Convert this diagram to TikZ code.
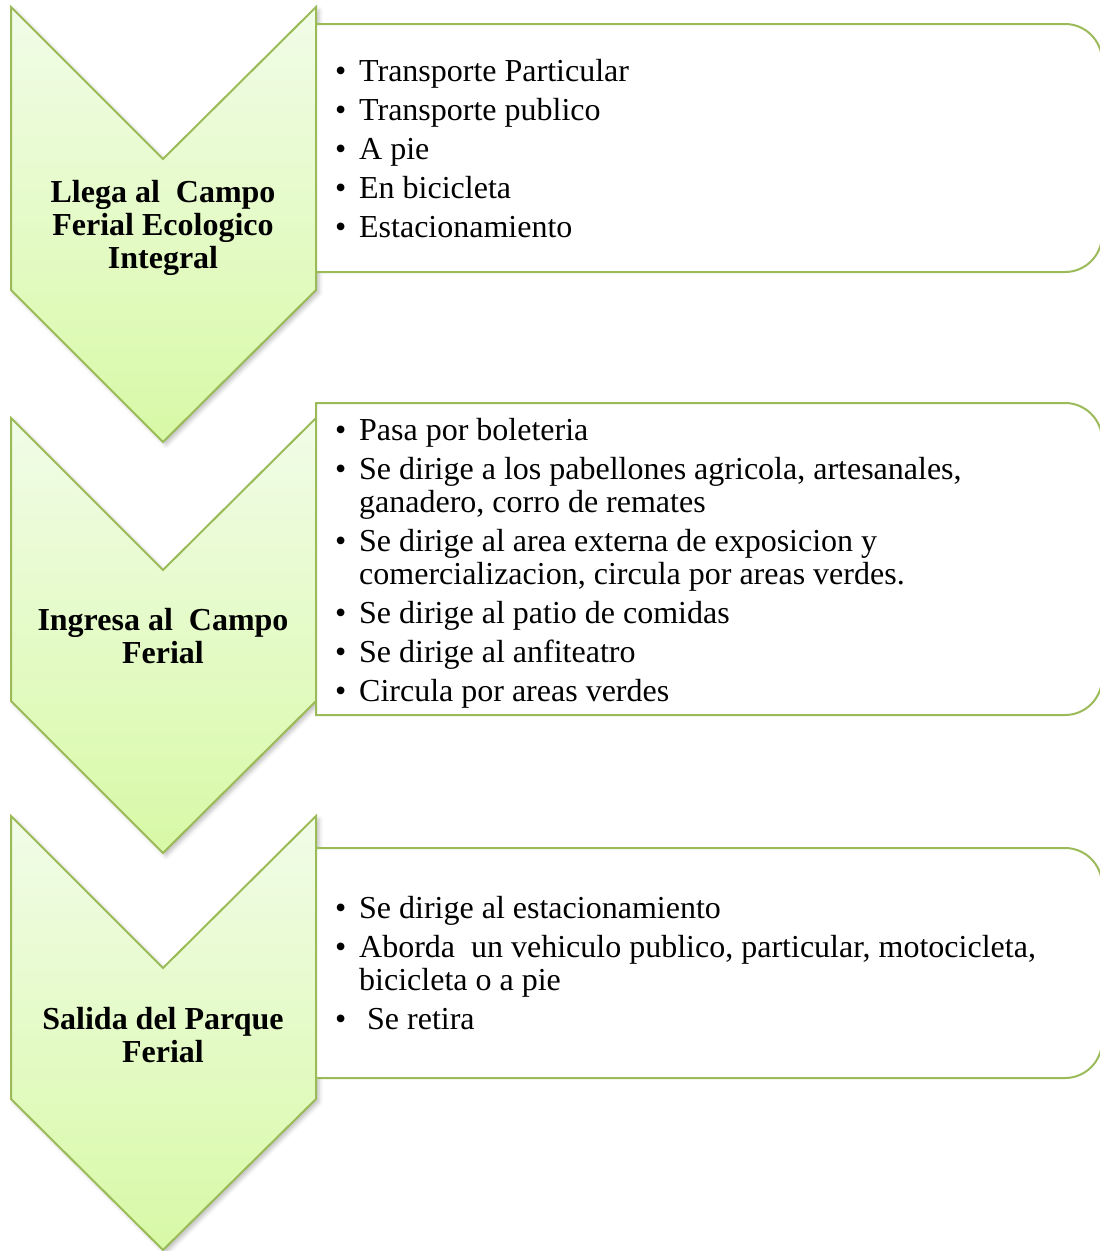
\documentclass[tikz,border=0pt]{standalone}
\usepackage{fontspec}
\setmainfont{Liberation Serif}
\usetikzlibrary{shadows.blur}

\definecolor{chevtop}{HTML}{F1FCE8}
\definecolor{chevbot}{HTML}{D8F9A6}
\definecolor{chevline}{HTML}{9BBB59}

\newcommand{\itm}{\par\parskip=6pt\noindent\hangindent=24pt\hangafter=1\makebox[24pt][l]{\textbullet}}

\begin{document}
\begin{tikzpicture}[x=1pt,y=-1pt,
    chevron/.style={draw=chevline,line width=2pt,line join=miter,top color=chevtop,bottom color=chevbot,
      blur shadow={shadow xshift=3pt,shadow yshift=-3pt,shadow blur radius=4pt,shadow opacity=25}},
    stepbox/.style={draw=chevline,line width=2pt,fill=white},
    steptext/.style={text width=290pt,align=flush center,inner sep=0pt,font=\fontsize{32}{33}\selectfont\bfseries},
    items/.style={anchor=west,text width=760pt,align=flush left,inner sep=0pt,font=\fontsize{32}{33}\selectfont}]
      \useasboundingbox (0,0) rectangle (1100,1251);

      \draw [chevron] (11,7) -- (163,159) -- (316,7) -- (316,290) -- (163,442) -- (11,290) -- cycle;
      \draw [chevron] (11,418) -- (163,570) -- (316,418) -- (316,701) -- (163,853) -- (11,701) -- cycle;
      \draw [chevron] (11,816) -- (163,968) -- (316,816) -- (316,1099) -- (163,1250) -- (11,1099) -- cycle;

      \draw [stepbox] (316,24) [rounded corners=37pt] -- (1102,24) -- (1102,272) [sharp corners] -- (316,272) -- cycle;
      \draw [stepbox] (316,403) [rounded corners=37pt] -- (1102,403) -- (1102,715) [sharp corners] -- (316,715) -- cycle;
      \draw [stepbox] (316,848) [rounded corners=37pt] -- (1102,848) -- (1102,1078) [sharp corners] -- (316,1078) -- cycle;

      \node [steptext] (llega) at (163,228) {Llega al\ \ Campo\\Ferial Ecologico\\Integral};
      \node [steptext] (ingresa) at (163,636) {Ingresa al\ \ Campo\\Ferial};
      \node [steptext] (salida) at (163,1035) {Salida del Parque\\Ferial};

      \node [items] (llegaitems) at (335,140) {\itm Transporte Particular
        \itm Transporte publico
        \itm A pie
        \itm En bicicleta
        \itm Estacionamiento};
      \node [items] (ingresaitems) at (335,555) {\itm Pasa por boleteria
        \itm Se dirige a los pabellones agricola, artesanales,\newline ganadero, corro de remates
        \itm Se dirige al area externa de exposicion y\newline comercializacion, circula por areas verdes.
        \itm Se dirige al patio de comidas
        \itm Se dirige al anfiteatro
        \itm Circula por areas verdes};
      \node [items] (salidaitems) at (335,955) {\itm Se dirige al estacionamiento
        \itm Aborda\ \ un vehiculo publico, particular, motocicleta,\newline bicicleta o a pie
        \itm\ Se retira};
    \end{tikzpicture}
\end{document}
